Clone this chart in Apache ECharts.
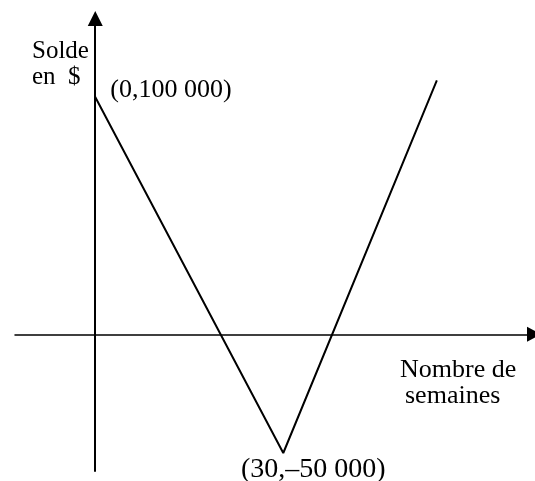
<!DOCTYPE html>
<html>
<head>
<meta charset="utf-8">
<script src="https://cdn.jsdelivr.net/npm/echarts@6/dist/echarts.min.js"></script>
<style>
  html, body { margin: 0; padding: 0; background: #fff; }
  #chart { width: 535px; height: 481px; }
</style>
</head>
<body>
<div id="chart"></div>
<script>
// Data (sketch of a balance over weeks)
const weeks = [0, 30, 54.5];
const balance = [100000, -50000, 107000];
const pointLabels = ['(0,100 000)', '(30,\u201350 000)', ''];
const xTitle = ['Nombre de', 'semaines'];
const yTitle = ['Solde', 'en  $'];

const FONT = "'Liberation Serif', 'Times New Roman', serif";

const labelStyles = [
  { show: true, position: 'right', distance: 15, offset: [0, -7], fontSize: 26 },
  { show: true, position: 'bottom', distance: 3, offset: [30, 0], fontSize: 28 },
  { show: false }
];

const seriesData = weeks.map((w, i) => ({
  value: [w, balance[i]],
  label: Object.assign({ formatter: pointLabels[i], color: '#000', fontFamily: FONT }, labelStyles[i])
}));

const chart = echarts.init(document.getElementById('chart'), null, { renderer: 'canvas' });
chart.setOption({
  animation: false,
  backgroundColor: '#fff',
  grid: { left: 15, right: 1, top: 18.5, bottom: 10, containLabel: false },
  xAxis: {
    type: 'value', min: -12.8, max: 70,
    axisLine: { onZero: true, symbol: ['none', 'triangle'], symbolSize: [15, 14], lineStyle: { color: '#000', width: 1.5 } },
    axisTick: { show: false }, axisLabel: { show: false }, splitLine: { show: false }
  },
  yAxis: {
    type: 'value', min: -57584, max: 133076,
    axisLine: { onZero: true, symbol: ['none', 'triangle'], symbolSize: [15, 15], lineStyle: { color: '#000', width: 2 } },
    axisTick: { show: false }, axisLabel: { show: false }, splitLine: { show: false }
  },
  series: [{
    type: 'line',
    data: seriesData,
    symbol: 'circle',
    symbolSize: 0.01,
    showSymbol: true,
    showAllSymbol: true,
    itemStyle: { color: '#000' },
    lineStyle: { color: '#000', width: 2 },
    z: 5
  }],
  graphic: [
    { type: 'text', left: 32, top: 38, style: { text: yTitle.join('\n'), font: '25px ' + FONT, lineHeight: 26, fill: '#000' } },
    { type: 'text', left: 400, top: 357, style: { text: xTitle[0], font: '26px ' + FONT, fill: '#000' } },
    { type: 'text', left: 405, top: 383, style: { text: xTitle[1], font: '26px ' + FONT, fill: '#000' } }
  ]
});
</script>
</body>
</html>
